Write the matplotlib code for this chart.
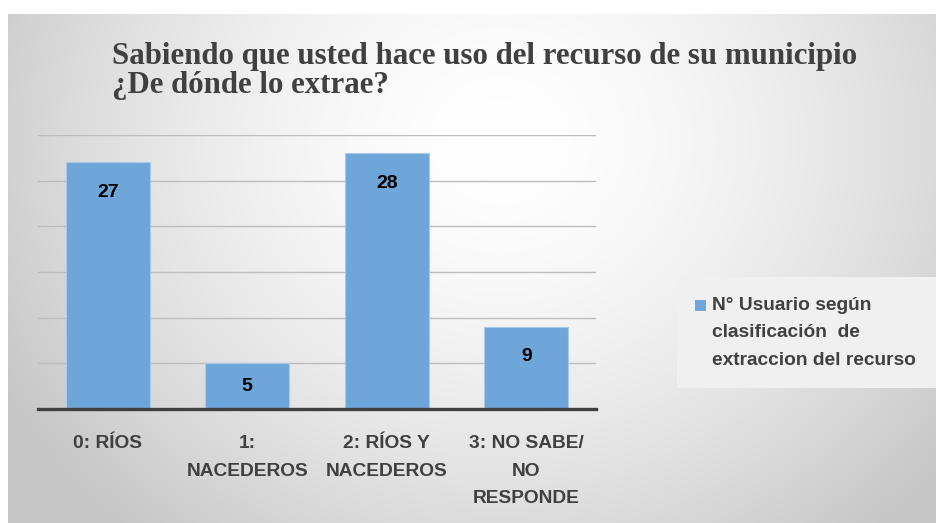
import numpy as np
import matplotlib
matplotlib.use("Agg")
import matplotlib.pyplot as plt
import matplotlib.patches as patches

# data
categories = ["0: RÍOS", "1:\nNACEDEROS", "2: RÍOS Y\nNACEDEROS", "3: NO SABE/\nNO\nRESPONDE"]
values = [27, 5, 28, 9]
series_name = "N° Usuario según\nclasificación  de\nextraccion del recurso"
title = "Sabiendo que usted hace uso del recurso de su municipio\n¿De dónde lo extrae?"

bar_color = "#6fa6da"
text_color = "#404040"
sans = ["Liberation Sans", "DejaVu Sans"]
W, H = 936, 523

fig = plt.figure(figsize=(W / 100, H / 100), dpi=100)
fig.patch.set_facecolor("white")

# radial grey background of the chart area
bg = fig.add_axes([8 / W, 0, 1 - 8 / W, 509 / H], zorder=-10)
yy, xx = np.mgrid[14:523, 8:936]
d = np.hypot(xx - 500, (yy - 140) * 1.1)
v = 1 - 0.23 * np.clip(d / 580, 0, 1.2) ** 1.6
v = np.clip(v, 0.78, 1)
bg.imshow(np.dstack([v, v, v]), aspect="auto", extent=[0, 1, 0, 1])
bg.axis("off")

# main axes
ax = fig.add_axes([38 / W, (H - 409) / H, (596 - 38) / W, (409 - 135) / H])
ax.patch.set_alpha(0)
x = np.arange(len(categories))
ax.bar(x, values, width=0.6, color=bar_color, edgecolor="#a9c9e8", linewidth=0.8, zorder=3)
ax.set_xlim(-0.5, len(categories) - 0.5)
ax.set_ylim(0, 30)
ax.set_yticks(np.arange(5, 31, 5))
ax.yaxis.grid(True, color="#bdbdbd", linewidth=1.0, zorder=0)
ax.set_yticklabels([])
ax.tick_params(axis="both", length=0)
for s in ["left", "right", "top"]:
    ax.spines[s].set_visible(False)
ax.spines["bottom"].set_color(text_color)
ax.spines["bottom"].set_linewidth(2.4)
ax.spines["bottom"].set_zorder(4)
ax.set_xticks(x)
ax.set_xticklabels(categories, family=sans, fontweight="bold", fontsize=13.8,
                   color=text_color, linespacing=1.8)
ax.tick_params(axis="x", pad=19)

# value labels, inside end
for xi, val in zip(x, values):
    ax.text(xi, val - min(3.3, val / 2), str(val), ha="center", va="center",
            family=sans, fontweight="bold", fontsize=14, color="black", zorder=5)

# title
fig.text(112 / W, 1 - 42 / H, title, ha="left", va="top", family="Liberation Serif",
         fontweight="bold", fontsize=22.2, color=text_color, linespacing=1.02)

# legend (drawn by hand so the marker sits on the first line)
fig.add_artist(patches.Rectangle((677 / W, 1 - 388 / H), (936 - 677) / W, 111 / H,
                                 transform=fig.transFigure, facecolor="#f0f0f0", edgecolor="none"))
fig.add_artist(patches.Rectangle((695 / W, 1 - 311 / H), 11 / W, 11 / H,
                                 transform=fig.transFigure, facecolor=bar_color, edgecolor="none"))
fig.text(712 / W, 1 - 297 / H, series_name, ha="left", va="top", family=sans,
         fontweight="bold", fontsize=13.8, color=text_color, linespacing=1.8)

fig.savefig("out.png", dpi=100)
